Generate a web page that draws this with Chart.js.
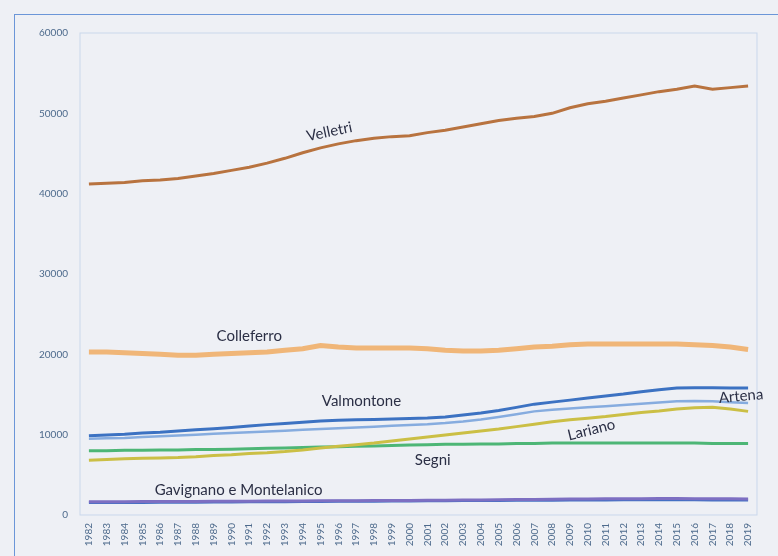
<!DOCTYPE html>
<html><head><meta charset="utf-8">
<script src="https://cdn.jsdelivr.net/npm/chart.js@4/dist/chart.umd.min.js"></script>
<style>
html,body{margin:0;padding:0;background:#eef0f5;overflow:hidden;width:778px;height:556px;}
#wrap{position:absolute;left:14px;top:14px;width:790px;height:570px;border-left:1.5px solid #6b96d8;border-top:1.5px solid #6b96d8;}
canvas{display:block;}
</style></head><body>
<div id="wrap"><canvas id="c" width="790" height="570"></canvas></div>
<script>
const years = ['1982','1983','1984','1985','1986','1987','1988','1989','1990','1991','1992','1993','1994','1995','1996','1997','1998','1999','2000','2001','2002','2003','2004','2005','2006','2007','2008','2009','2010','2011','2012','2013','2014','2015','2016','2017','2018','2019'];
const yTicks = [0,10000,20000,30000,40000,50000,60000];
const velletri = [41200,41300,41400,41600,41700,41900,42200,42500,42900,43300,43800,44400,45100,45700,46200,46600,46900,47100,47200,47600,47900,48300,48700,49100,49400,49600,50000,50700,51200,51500,51900,52300,52700,53000,53400,53000,53200,53400];
const colleferro = [20300,20300,20200,20100,20000,19900,19900,20000,20100,20200,20300,20500,20700,21100,20900,20800,20800,20800,20800,20700,20500,20400,20400,20500,20700,20900,21000,21200,21300,21300,21300,21300,21300,21300,21200,21100,20900,20600];
const valmontone = [9850,9950,10050,10200,10300,10450,10600,10750,10900,11080,11250,11400,11550,11700,11800,11850,11900,11950,12000,12070,12200,12450,12700,13000,13400,13800,14050,14300,14550,14800,15050,15350,15600,15800,15850,15850,15800,15800];
const artena = [9500,9550,9600,9700,9800,9900,10000,10100,10200,10300,10400,10500,10600,10700,10800,10900,11000,11100,11200,11300,11450,11650,11900,12200,12550,12900,13100,13250,13400,13550,13700,13850,14000,14150,14200,14150,14050,13950];
const lariano = [6800,6900,7000,7050,7100,7150,7250,7400,7500,7650,7750,7900,8100,8350,8550,8750,8950,9200,9450,9700,9950,10200,10450,10700,11000,11300,11600,11850,12050,12250,12500,12750,12950,13200,13350,13400,13200,12900];
const segni = [8000,8000,8050,8050,8100,8100,8150,8150,8200,8250,8300,8350,8400,8450,8500,8550,8600,8650,8700,8750,8800,8800,8850,8850,8900,8900,8950,8950,8950,8950,8950,8950,8950,8950,8950,8900,8900,8900];
const gavignano = [1550,1550,1560,1570,1580,1590,1600,1610,1620,1640,1650,1660,1680,1690,1700,1710,1720,1730,1740,1760,1770,1790,1800,1810,1830,1840,1850,1860,1870,1880,1890,1900,1900,1900,1890,1880,1870,1860];
const montelanico = [1650,1660,1660,1670,1680,1680,1690,1700,1710,1720,1730,1740,1750,1760,1770,1780,1790,1800,1810,1830,1840,1860,1880,1900,1920,1940,1960,1980,2000,2010,2020,2030,2040,2040,2030,2020,2010,2000];

// text annotations: [text, category index, value, angle(deg)]
const notes = [
  ['Velletri', 13.5, 47700, -12],
  ['Colleferro', 9.0, 22300, 0],
  ['Valmontone', 15.3, 14200, 0],
  ['Artena', 36.6, 14800, -5],
  ['Lariano', 28.2, 10600, -14],
  ['Segni', 19.3, 6800, 0],
  ['Gavignano e Montelanico', 8.4, 3100, 0]
];

const notePlugin = {
  id:'notes',
  afterDatasetsDraw(chart){
    const {ctx, scales:{x,y}} = chart;
    ctx.save();
    ctx.font = '15px Lato, sans-serif';
    ctx.fillStyle = '#2b2f45';
    ctx.textAlign = 'center';
    ctx.textBaseline = 'middle';
    notes.forEach(n=>{
      const px = x.getPixelForValue(n[1]);
      const py = y.getPixelForValue(n[2]);
      ctx.save();
      ctx.translate(px,py);
      ctx.rotate(n[3]*Math.PI/180);
      ctx.fillText(n[0],0,0);
      ctx.restore();
    });
    ctx.restore();
  },
  beforeDatasetsDraw(chart){
    const {ctx, chartArea:a} = chart;
    ctx.save();
    ctx.strokeStyle = '#c9d7ec';
    ctx.lineWidth = 1;
    ctx.strokeRect(a.left, a.top, a.right-a.left, a.bottom-a.top);
    ctx.restore();
  }
};

function ds(label,data,color,w){
  return {label,data,borderColor:color,backgroundColor:color,borderWidth:w,pointRadius:0,tension:0,fill:false};
}

new Chart(document.getElementById('c'),{
  type:'line',
  data:{labels:years,datasets:[
    ds('Velletri',velletri,'#b8733f',3),
    ds('Colleferro',colleferro,'#f0b678',5),
    ds('Artena',artena,'#86acdf',2.5),
    ds('Valmontone',valmontone,'#3c72c2',3),
    ds('Lariano',lariano,'#cbbf45',3),
    ds('Segni',segni,'#4db676',3),
    ds('Montelanico',montelanico,'#7d6fc2',3),
    ds('Gavignano',gavignano,'#4470c4',3)
  ]},
  options:{
    responsive:false,animation:false,
    layout:{padding:{top:13,right:48,bottom:15,left:0}},
    plugins:{legend:{display:false},tooltip:{enabled:false}},
    scales:{
      x:{offset:true,grid:{display:false,drawTicks:false},border:{display:false},
        ticks:{minRotation:90,maxRotation:90,autoSkip:false,padding:8,color:'#4d6a8c',font:{size:10,family:'Lato, sans-serif'}},
        afterFit(s){s.height=55;}},
      y:{min:0,max:60000,grid:{display:false,drawTicks:false},border:{display:false},
        afterBuildTicks(s){s.ticks=yTicks.map(v=>({value:v}));},
        ticks:{padding:12,color:'#4d6a8c',font:{size:10,family:'Lato, sans-serif'},callback:v=>String(v)},
        afterFit(s){s.width=65;}}
    }
  },
  plugins:[notePlugin]
});
</script>
</body></html>
